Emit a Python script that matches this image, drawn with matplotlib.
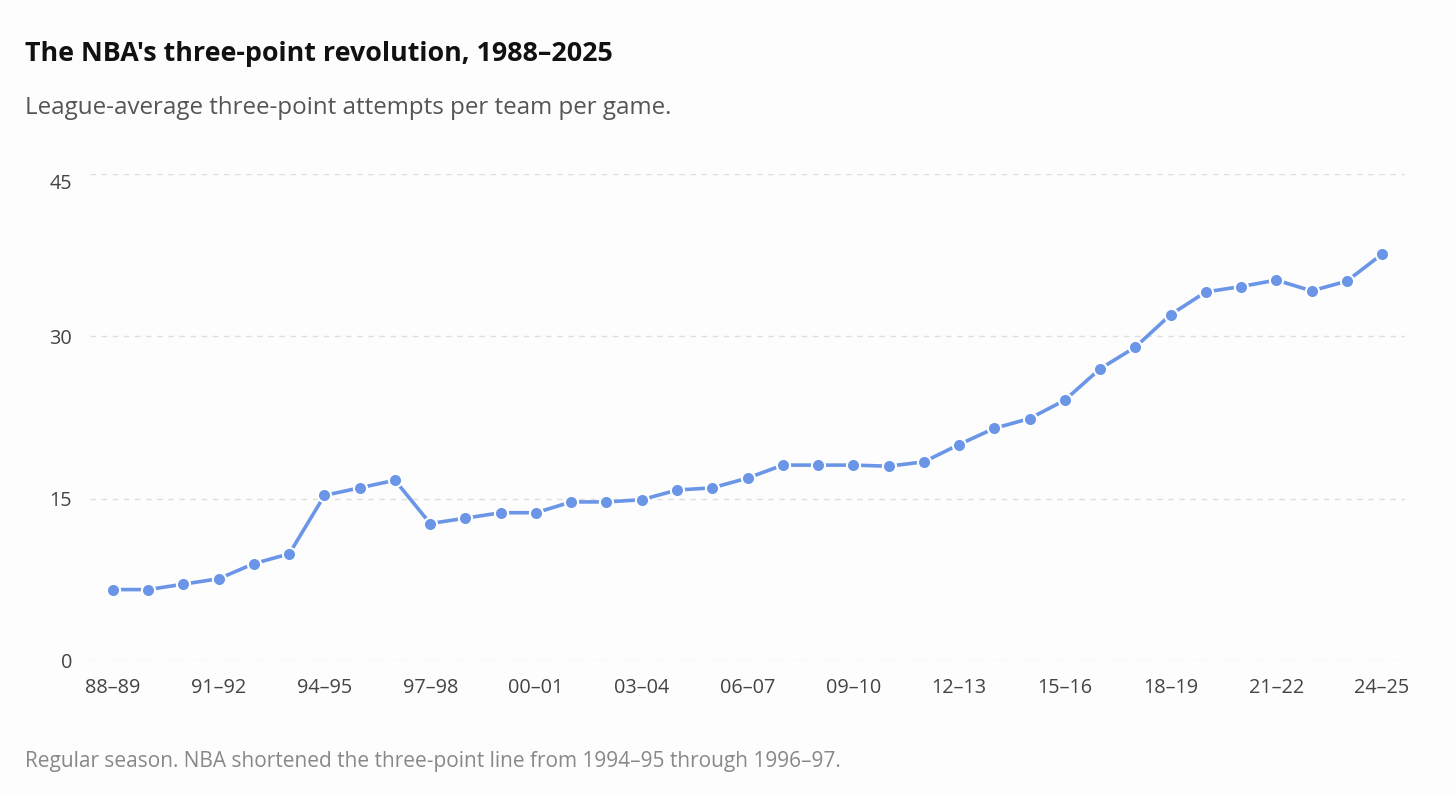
import matplotlib.pyplot as plt

plt.rcParams['font.family'] = ['Open Sans', 'DejaVu Sans']

# Temporadas (inicio de cada una) y triples intentados por equipo por partido
start_years = list(range(1988, 2025))
seasons = [f"{y % 100:02d}\u2013{(y + 1) % 100:02d}" for y in start_years]
attempts = [6.6, 6.6, 7.1, 7.6, 9.0, 9.9, 15.3, 16.0, 16.7, 12.7,
            13.2, 13.7, 13.7, 14.7, 14.7, 14.9, 15.8, 16.0, 16.9, 18.1,
            18.1, 18.1, 18.0, 18.4, 20.0, 21.5, 22.4, 24.1, 27.0, 29.0,
            32.0, 34.1, 34.6, 35.2, 34.2, 35.1, 37.6]
y_ticks = [0, 15, 30, 45]

bg = "#fdfdfd"
blue = "#6b96e8"

fig = plt.figure(figsize=(14.56, 7.95), dpi=100, facecolor=bg)
ax = fig.add_axes([90 / 1456, 1 - 661 / 795, (1405 - 90) / 1456, (661 - 174) / 795])
ax.set_facecolor(bg)

x = list(range(len(seasons)))
ax.plot(x, attempts, color=blue, lw=2.6, zorder=3,
        marker="o", markersize=9.5, markerfacecolor=blue,
        markeredgecolor="white", markeredgewidth=1.5, solid_capstyle="round")

ax.set_xlim(-0.65, len(seasons) - 1 + 0.65)
ax.set_ylim(0, 45)
ax.set_yticks(y_ticks)
ax.set_yticklabels([str(v) for v in y_ticks])
ax.set_xticks(x[::3])
ax.set_xticklabels(seasons[::3])

ax.grid(axis="y", color="#dedede", linestyle=(0, (4, 4)), lw=1, zorder=0)
for s in ax.spines.values():
    s.set_visible(False)
ax.tick_params(axis="both", length=0, labelsize=14.3, labelcolor="#444444")
ax.tick_params(axis="y", pad=13)
ax.tick_params(axis="x", pad=12)
# la etiqueta superior queda algo por debajo de su línea
ax.get_yticklabels()[-1].set_verticalalignment("top")

fig.text(25 / 1456, 1 - 61 / 795, "The NBA's three-point revolution, 1988\u20132025",
         fontsize=19.4, fontweight="bold", color="#111111")
fig.text(25 / 1456, 1 - 114 / 795, "League-average three-point attempts per team per game.",
         fontsize=17.4, color="#555555")
fig.text(25 / 1456, 1 - 767 / 795,
         "Regular season. NBA shortened the three-point line from 1994\u201395 through 1996\u201397.",
         fontsize=15, color="#888888")

fig.savefig("out.png", dpi=100, facecolor=bg)
